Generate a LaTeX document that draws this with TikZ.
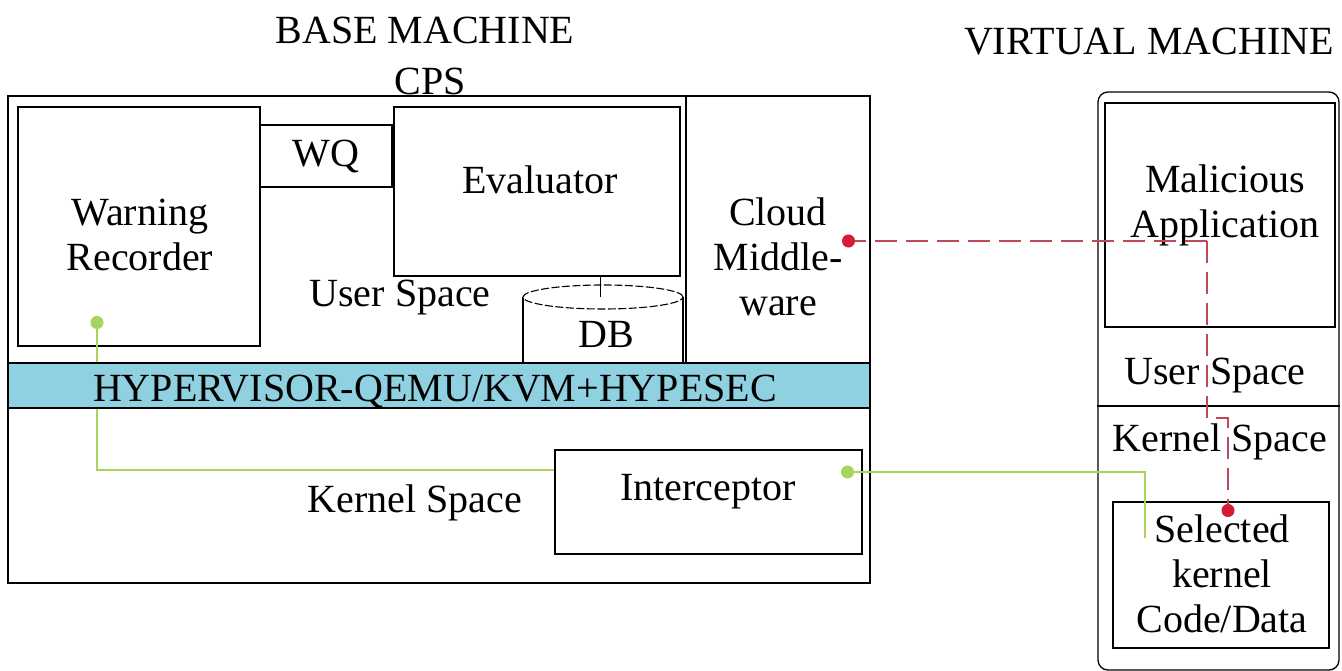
\documentclass[tikz,border=0pt]{standalone}
\usepackage{fontspec}
\setmainfont{Liberation Serif}
\usetikzlibrary{arrows.meta,shapes.geometric}
\definecolor{hvblue}{RGB}{143,209,225}
\definecolor{redline}{RGB}{192,72,88}
\definecolor{reddot}{RGB}{212,28,52}
\definecolor{greenline}{RGB}{168,212,92}
\begin{document}
\begin{tikzpicture}[x=1pt,y=-1pt,
  box/.style={draw, line width=1.3pt, inner sep=0pt},
  txt/.style={font=\fontsize{40}{45}\selectfont, align=center, inner sep=0pt},
  redarrow/.style={draw=redline, line width=1.3pt, dash pattern=on 22pt off 9pt, -{Circle[length=13pt, width=13pt, color=reddot]}},
  greenarrow/.style={draw=greenline, line width=1.4pt, -{Circle[length=13pt, width=13pt]}}
]
\useasboundingbox (0,0) rectangle (1342,671);

% titles
\node[txt] (bm) at (425,30) {BASE MACHINE};
\node[txt] (vmt) at (1149,42) {VIRTUAL MACHINE};
\node[txt, anchor=base] (cps) at (430,95) {CPS};

% base machine
\node[box, minimum width=862, minimum height=487] (base) at (439,339.5) {};
\node[box, minimum width=184, minimum height=267] (cloud) at (778,229.5) {};
\node[txt] (cloudt) at (778,257) {Cloud\\Middle-\\ware};
\node[box, minimum width=242, minimum height=239] (wr) at (139,226.5) {};
\node[txt] (wrt) at (140,235) {Warning\\Recorder};
\node[box, minimum width=132, minimum height=62] (wq) at (326,156) {};
\node[txt] (wqt) at (326,157) {WQ};
\node[box, minimum width=286, minimum height=169] (eval) at (537,191.5) {};
\node[txt] (evalt) at (540,180) {Evaluator};
\node[txt] (us) at (400,298) {User Space};

% DB cylinder
\draw[line width=1.2pt] (523,297) -- (523,363);
\draw[line width=1.2pt] (683,297) -- (683,363);
\node[draw, dash pattern=on 8pt off 2.5pt, line width=1.1pt, ellipse, minimum width=160, minimum height=24, inner sep=0pt, fill=white] (db) at (603,297) {};
\node[txt] (dbt) at (606,334) {DB};
\draw[line width=1pt] (eval.south -| 600,0) -- (600,297);

% kernel space
\node[box, minimum width=307, minimum height=104] (int) at (708.5,502) {};
\node[txt] (intt) at (708,492) {Interceptor};
\node[txt] (ks) at (415,503) {Kernel Space};

% green connector interceptor -> warning recorder (under the band)
\coordinate (wrend) at (97,316);
\draw[greenarrow] (int.west |- 0,470) -- (97,470) -- (wrend);

% hypervisor band
\node[box, fill=hvblue, minimum width=862, minimum height=45] (hv) at (439,385.5) {};
\node[txt, anchor=base] (hvt) at (435,401) {HYPERVISOR-QEMU/KVM+HYPESEC};

% virtual machine
\node[box, rounded corners=10pt, minimum width=241, minimum height=578] (vm) at (1218.5,381) {};
\node[box, minimum width=230, minimum height=224] (mal) at (1220,215) {};
\node[txt] (malt) at (1225,205) {Malicious\\Application};
\draw[line width=1.3pt] (vm.west |- 0,406) -- (vm.east |- 0,406);
\node[txt] (vus) at (1215,376) {User Space};
\node[txt] (vks) at (1220,442) {Kernel Space};
\node[box, minimum width=216, minimum height=146] (sel) at (1221,575) {};
\node[txt] (selt) at (1222,574) {Selected\\kernel\\Code/Data};

% red dashed connectors
\coordinate (ma) at (1207,241);
\coordinate (cmend) at (842,241);
\coordinate (selend) at (1228,517);
\draw[redarrow] (ma) -- (cmend);
\draw[redarrow] (ma) -- (1207,418) -- (1228,418) -- (selend);

% green connector selected kernel -> interceptor
\coordinate (gs) at (1145,538);
\coordinate (intend) at (841,472);
\draw[greenarrow] (gs) -- (1145,472) -- (intend);
\end{tikzpicture}
\end{document}
